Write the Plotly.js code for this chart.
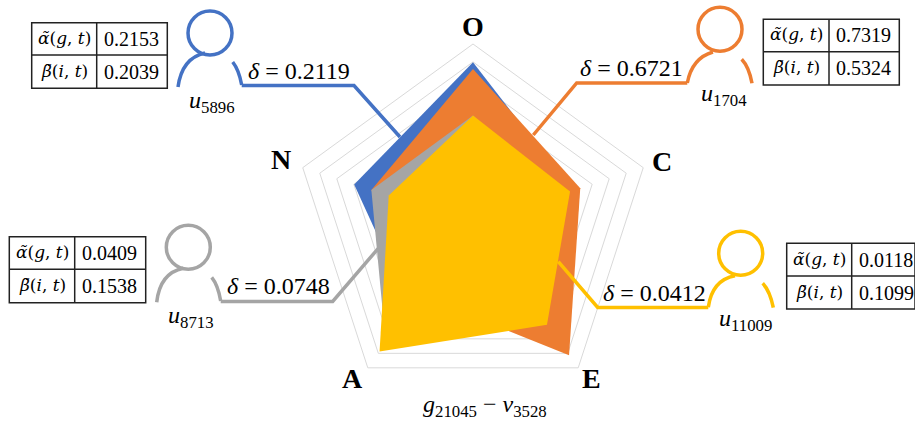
<!DOCTYPE html>
<html><head><meta charset="utf-8">
<script src="https://cdn.plot.ly/plotly-3.0.1.min.js"></script>
<style>html,body{margin:0;padding:0;background:#fff}#c{width:915px;height:421px}</style>
</head><body><div id="c"></div>
<script>
const categories = ["O","C","E","A","N"];
const users = ["u5896","u1704","u8713","u11009"];
const userIds = ["5896","1704","8713","11009"];
const colors = ["#4472C4","#ED7D31","#A5A5A5","#FFC000"];
const blueValues   = [0.898,0.585,0.60,0.59,0.698];
const orangeValues = [0.86,0.63,0.913,0.50,0.597];
const greyValues   = [0.60,0.50,0.50,0.83,0.597];
const yellowValues = [0.60,0.57,0.703,0.888,0.495];
const seriesValues = [blueValues,orangeValues,greyValues,yellowValues];
const deltas = ["0.2119","0.6721","0.0748","0.0412"];
const alphas = ["0.2153","0.7319","0.0409","0.0118"];
const betas  = ["0.2039","0.5324","0.1538","0.1099"];
const bottomParts = ["21045","3528"];

const W=915,H=421;
const px=x=>x/W, py=y=>1-y/H;
const cx=473,cy=223,R=179;

const SERIF='"Liberation Serif", serif';
const MATH='"DejaVu Serif", serif';
const traces=seriesValues.map((v,i)=>({
  type:'scatterpolar',mode:'lines',name:users[i],
  r:v.concat(v[0]),theta:categories.concat(categories[0]),
  fill:'toself',fillcolor:colors[i],line:{color:colors[i],width:0},hoverinfo:'skip'
}));

const icons=[
 {head:[210,33],left:[178,87,205,53,182,58],right:[232.7,62,241.7,85,239,70],conn:[[241.7,85.5],[354,85.5],[400,137]],
  table:[31.7,96.7,167.3,22.7,55,88.3],label:[212,102],delta:[299,70.5]},
 {head:[720,29.3],left:[687.3,83,713,52,692,58],right:[741.7,59.3,752,83.3,749,67],conn:[[687.3,83],[576.7,83],[533.3,135]],
  table:[763.3,829,899.3,19.3,51.7,85],label:[724,95],delta:[631,68]},
 {head:[188.3,247.3],left:[156.7,302.3,183.3,268.3,160,273],right:[211.7,277.3,220.7,301,218,285],conn:[[220.7,301.5],[332.7,301.5],[378.3,248.3]],
  table:[9.3,74.7,145.7,236.7,269.3,302.7],label:[191,317],delta:[278,285.5]},
 {head:[740.7,253.3],left:[708.3,307.3,735,275.7,712,280],right:[762.7,283.3,773.3,307.7,770,291],conn:[[708.3,307.5],[597.7,307.5],[558.3,261.7]],
  table:[786.7,851.7,915,243.3,276,309],label:[745,320],delta:[654,293]}
];
const axisLabelPos=[[473,27],[662,162],[591,378],[352,378],[281,160]];
const P=(x,y)=>px(x).toFixed(5)+' '+py(y).toFixed(5);
const shapes=[],annotations=[];
function txt(x,y,t,size,extra,fam){annotations.push(Object.assign({xref:'paper',yref:'paper',x:px(x),y:py(y),text:t,showarrow:false,
  xanchor:'center',yanchor:'middle',font:{family:fam||SERIF,size:size,color:'#000'}},extra||{}));}
icons.forEach((ic,i)=>{
  const c=colors[i],l={color:c,width:3.5};
  const [hx,hy]=ic.head;
  shapes.push({type:'circle',xref:'paper',yref:'paper',x0:px(hx-22),x1:px(hx+22),y0:py(hy+22),y1:py(hy-22),line:l});
  [ic.left,ic.right].forEach(a=>shapes.push({type:'path',xref:'paper',yref:'paper',line:l,
     path:`M ${P(a[0],a[1])} Q ${P(a[4],a[5])} ${P(a[2],a[3])}`}));
  shapes.push({type:'path',xref:'paper',yref:'paper',line:l,
     path:'M '+ic.conn.map(p=>P(p[0],p[1])).join(' L ')});
  const [x0,xm,x1,y0,ym,y1]=ic.table;
  const tl={color:'#222',width:1.5};
  shapes.push({type:'rect',xref:'paper',yref:'paper',x0:px(x0),x1:px(x1),y0:py(y1),y1:py(y0),line:tl});
  shapes.push({type:'line',xref:'paper',yref:'paper',x0:px(xm),x1:px(xm),y0:py(y1),y1:py(y0),line:tl});
  shapes.push({type:'line',xref:'paper',yref:'paper',x0:px(x0),x1:px(x1),y0:py(ym),y1:py(ym),line:tl});
  txt((x0+xm)/2,(y0+ym)/2-1,'<i>α̃</i>(<i>g</i>, <i>t</i>)',17,null,MATH);
  txt((x0+xm)/2,(ym+y1)/2-1,'<i>β̃</i>(<i>i</i>, <i>t</i>)',17,null,MATH);
  txt(xm+5,(y0+ym)/2,alphas[i],20,{xanchor:'left'});
  txt(xm+5,(ym+y1)/2,betas[i],20,{xanchor:'left'});
  txt(ic.label[0],ic.label[1],'<i>u</i><sub>'+userIds[i]+'</sub>',24);
  txt(ic.delta[0],ic.delta[1],'<i>δ</i> = '+deltas[i],24);
});
categories.forEach((c,i)=>txt(axisLabelPos[i][0],axisLabelPos[i][1],'<b>'+c+'</b>',28));
txt(485,406,'<i>g</i><sub>'+bottomParts[0]+'</sub>\u00A0−\u00A0<i>v</i><sub>'+bottomParts[1]+'</sub>',24);

const layout={
  width:W,height:H,margin:{l:0,r:0,t:0,b:0},showlegend:false,paper_bgcolor:'#fff',
  polar:{
    domain:{x:[(cx-R)/W,(cx+R)/W],y:[(H-cy-R)/H,(H-cy+R)/H]},
    gridshape:'linear',bgcolor:'rgba(0,0,0,0)',
    radialaxis:{range:[0,1],dtick:0.1,showticklabels:false,ticks:'',showline:false,gridcolor:'#D9D9D9',gridwidth:1},
    angularaxis:{type:'category',categoryorder:'array',categoryarray:categories,direction:'clockwise',rotation:90,
      showgrid:false,showline:true,linecolor:'#D9D9D9',linewidth:1,ticks:'',showticklabels:false}
  },
  shapes,annotations
};
Plotly.newPlot('c',traces,layout,{displayModeBar:false,staticPlot:true});
</script></body></html>
